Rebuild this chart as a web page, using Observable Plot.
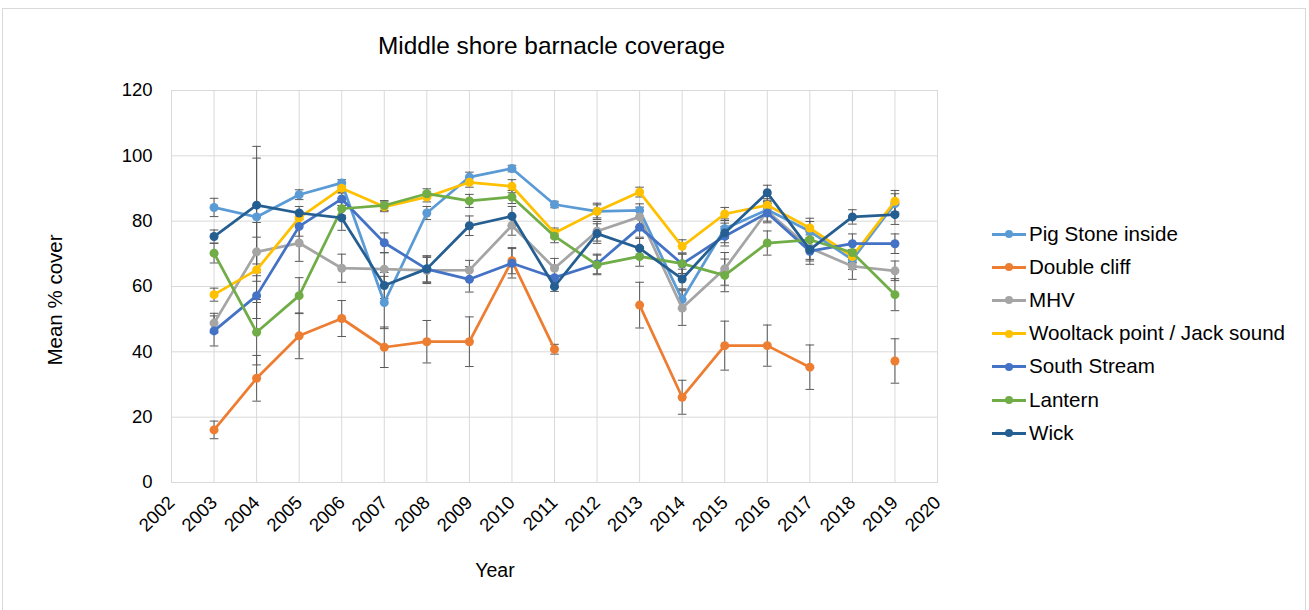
<!DOCTYPE html>
<html>
<head>
<meta charset="utf-8">
<script src="https://cdn.jsdelivr.net/npm/d3@7"></script>
<script src="https://cdn.jsdelivr.net/npm/@observablehq/plot@0.6"></script>
<style>
  html, body { margin: 0; padding: 0; background: #fff; }
  #chart { position: relative; width: 1309px; height: 610px; overflow: hidden; font-family: "Liberation Sans", Arial, sans-serif; color: #000; }
  #chart svg { position: absolute; left: 0; top: 0; background: transparent; }
  .abs { position: absolute; line-height: 1; white-space: nowrap; }
  #border { position: absolute; left: 2px; top: 8px; width: 1302px; height: 640px; border: 1px solid #d9d9d9; pointer-events: none; }
  .leg-row { position: absolute; left: 992px; height: 20px; }
  .leg-line { position: absolute; left: 0; width: 34px; height: 3px; }
  .leg-dot { position: absolute; left: 13px; width: 8px; height: 8px; border-radius: 50%; }
  .leg-text { position: absolute; left: 37px; font-size: 20.6px; line-height: 1; white-space: nowrap; }
</style>
</head>
<body>
<div id="chart"></div>
<script>
// ---- Data ----
const years = [2003, 2004, 2005, 2006, 2007, 2008, 2009, 2010, 2011, 2012, 2013, 2014, 2015, 2016, 2017, 2018, 2019];
const xTicks = [2002, 2003, 2004, 2005, 2006, 2007, 2008, 2009, 2010, 2011, 2012, 2013, 2014, 2015, 2016, 2017, 2018, 2019, 2020];
const yTicks = [0, 20, 40, 60, 80, 100, 120];

const seriesNames = ["Pig Stone inside", "Double cliff", "MHV", "Wooltack point / Jack sound", "South Stream", "Lantern", "Wick"];
const seriesColors = ["#5B9BD5", "#ED7D31", "#A5A5A5", "#FFC000", "#4472C4", "#70AD47", "#255E91"];

const pigStone     = [84.2, 81.3, 88.1, 91.7, 55.1, 82.5, 93.5, 96.1, 85.1, 83.0, 83.3, 56.0, 77.7, 83.5, 76.9, 68.2, 85.4];
const pigStoneErr  = [2.8, 18, 1.5, 1, 8, 2, 1.5, 1, 1, 2.5, 2, 3, 3, 2, 3, 3, 3];
const doubleCliff    = [16.1, 31.9, 44.9, 50.2, 41.4, 43.1, 43.1, 67.9, 40.8, null, 54.3, 26.1, 41.9, 41.9, 35.3, null, 37.2];
const doubleCliffErr = [2.7, 7, 7, 5.5, 6.2, 6.5, 7.6, 4, 1.5, null, 7, 5.2, 7.5, 6.3, 6.8, null, 6.8];
const mhv    = [48.8, 70.6, 73.3, 65.6, 65.3, 64.9, 65.0, 78.7, 65.6, 76.9, 81.3, 53.4, 65.4, 83.0, 71.8, 66.2, 64.8];
const mhvErr = [3, 9, 5.6, 4.3, 5, 4, 3, 3, 3, 3, 3, 5.3, 5, 3, 4, 4, 3];
const wooltack    = [57.5, 65.1, 81.0, 90.1, 84.4, 87.4, 91.9, 90.7, 76.4, 83.0, 88.9, 72.3, 82.2, 84.9, 77.9, 69.2, 86.1];
const wooltackErr = [2, 10, 2, 1.5, 1.5, 1.5, 1.5, 2, 1.5, 2, 1.5, 2, 2, 2, 3, 2, 3.3];
const southStream    = [46.4, 57.2, 78.4, 86.8, 73.4, 65.3, 62.2, 67.1, 62.7, 66.9, 78.1, 66.9, 75.4, 82.5, 70.8, 73.1, 73.1];
const southStreamErr = [4.6, 7, 3, 2, 3, 4, 3.9, 4.5, 3, 3, 3, 3, 3, 3, 4, 3, 3];
const lantern    = [70.2, 46.0, 57.2, 83.8, 84.8, 88.4, 86.2, 87.4, 75.4, 66.6, 69.2, 67.0, 63.4, 73.3, 74.3, 70.4, 57.5];
const lanternErr = [3, 10, 5.5, 2, 1.5, 1.5, 2, 2, 2, 3, 3, 3, 5, 3.7, 3, 3, 4.9];
const wick    = [75.3, 84.9, 82.5, 81.0, 60.3, 65.4, 78.6, 81.5, 60.0, 76.2, 71.7, 62.3, 76.4, 88.7, 71.3, 81.3, 82.0];
const wickErr = [2, 18, 2, 3.8, 4, 4, 3, 3, 1.5, 3, 3, 3, 3, 2.3, 3, 2.2, 3];

const seriesValues = [pigStone, doubleCliff, mhv, wooltack, southStream, lantern, wick];
const seriesErrors = [pigStoneErr, doubleCliffErr, mhvErr, wooltackErr, southStreamErr, lanternErr, wickErr];

// ---- Build tables ----
const rows = [];
seriesNames.forEach((name, i) => {
  years.forEach((yr, j) => {
    const v = seriesValues[i][j];
    const e = seriesErrors[i][j];
    rows.push({series: name, year: yr, value: v, lo: v == null ? null : v - e, hi: v == null ? null : v + e});
  });
});
const errRows = rows.filter(d => d.value != null);

const capSymbol = {
  draw(context, size) {
    context.moveTo(-4.3, 0);
    context.lineTo(4.3, 0);
  }
};

const seriesMarks = seriesNames.flatMap((name, i) => {
  const data = rows.filter(d => d.series === name);
  return [
    Plot.line(data, {x: "year", y: "value", stroke: seriesColors[i], strokeWidth: 2.75, strokeLinejoin: "round", strokeLinecap: "round"}),
    Plot.dot(data.filter(d => d.value != null), {x: "year", y: "value", fill: seriesColors[i], r: 4.5, stroke: "none"})
  ];
});

const chart = Plot.plot({
  width: 1309,
  height: 610,
  marginLeft: 171,
  marginRight: 372,
  marginTop: 90,
  marginBottom: 128,
  style: {fontFamily: "'Liberation Sans', Arial, sans-serif", color: "#000", background: "transparent", overflow: "visible"},
  x: {domain: [2002, 2020], axis: null},
  y: {domain: [0, 120], axis: null},
  marks: [
    Plot.gridX(xTicks, {stroke: "#d9d9d9", strokeOpacity: 1, strokeWidth: 1}),
    Plot.gridY(yTicks, {stroke: "#d9d9d9", strokeOpacity: 1, strokeWidth: 1}),
    Plot.frame({stroke: "#d9d9d9", strokeWidth: 1}),
    Plot.axisY(yTicks, {tickSize: 0, tickPadding: 19, fontSize: 18.5, label: null, fill: "#000"}),
    Plot.text(xTicks, {x: d => d, text: d => String(d), frameAnchor: "bottom", dy: 17, rotate: -45, textAnchor: "end", lineAnchor: "middle", fontSize: 18.5, fill: "#000"}),
    Plot.ruleX(errRows, {x: "year", y1: "lo", y2: "hi", stroke: "#595959", strokeWidth: 1}),
    Plot.dot(errRows, {x: "year", y: "lo", symbol: capSymbol, fill: "none", stroke: "#595959", strokeWidth: 1, r: 4}),
    Plot.dot(errRows, {x: "year", y: "hi", symbol: capSymbol, fill: "none", stroke: "#595959", strokeWidth: 1, r: 4}),
    ...seriesMarks
  ]
});

const root = document.getElementById("chart");
root.appendChild(chart);

// Title
const title = document.createElement("div");
title.className = "abs";
title.textContent = "Middle shore barnacle coverage";
title.style.fontSize = "24.4px";
title.style.left = "551.5px";
title.style.top = "34px";
title.style.transform = "translateX(-50%)";
root.appendChild(title);

// X axis title
const xTitle = document.createElement("div");
xTitle.className = "abs";
xTitle.textContent = "Year";
xTitle.style.fontSize = "19.5px";
xTitle.style.left = "495px";
xTitle.style.top = "561px";
xTitle.style.transform = "translateX(-50%)";
root.appendChild(xTitle);

// Y axis title
const yTitle = document.createElement("div");
yTitle.className = "abs";
yTitle.textContent = "Mean % cover";
yTitle.style.fontSize = "20.5px";
yTitle.style.left = "54.8px";
yTitle.style.top = "300px";
yTitle.style.transform = "translate(-50%, -50%) rotate(-90deg)";
root.appendChild(yTitle);

// Legend
seriesNames.forEach((name, i) => {
  const row = document.createElement("div");
  row.className = "leg-row";
  const cy = 234 + i * 33.2;
  row.style.top = (cy - 10) + "px";
  const line = document.createElement("div");
  line.className = "leg-line";
  line.style.background = seriesColors[i];
  line.style.top = "8.5px";
  const dot = document.createElement("div");
  dot.className = "leg-dot";
  dot.style.background = seriesColors[i];
  dot.style.top = "6px";
  const txt = document.createElement("div");
  txt.className = "leg-text";
  txt.textContent = name;
  txt.style.top = "-0.5px";
  row.appendChild(line);
  row.appendChild(dot);
  row.appendChild(txt);
  root.appendChild(row);
});

const border = document.createElement("div");
border.id = "border";
root.appendChild(border);
</script>
</body>
</html>
